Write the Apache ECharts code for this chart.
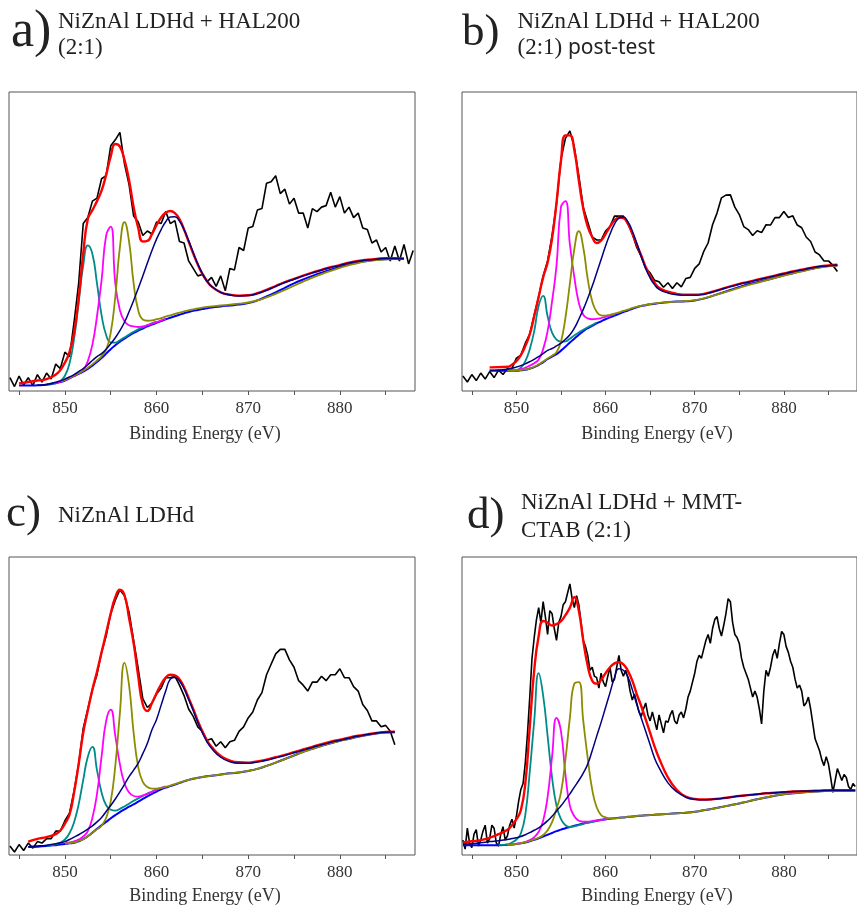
<!DOCTYPE html>
<html><head><meta charset="utf-8">
<script src="https://cdn.jsdelivr.net/npm/echarts@6/dist/echarts.min.js"></script>
<style>html,body{margin:0;padding:0;background:#fff}#c{width:857px;height:907px}</style>
</head><body><div id="c"></div>
<script>
const _ = null;
// energy grid of the fitted curves (eV)
const FX = [844,845,846,847,848,849,
 849.5,850,850.5,851,851.5,852,852.5,853,853.5,854,854.5,
 855,855.5,856,856.5,857,857.5,858,858.5,859,859.5,860,
 860.5,861,861.5,862,862.5,863,863.5,864,864.5,865,865.5,866,
 867,868,869,870,871,872,873,874,875,876,877,
 878,879,880,881,882,883,884,885,886,887,888];
// energy grid of the measured spectra a-c (eV)
const BX = [844,844.5,845,845.5,846,846.5,847,847.5,848,848.5,
 849,849.5,850,850.5,851,851.5,852,852.5,853,853.5,
 854,854.5,855,855.5,856,856.5,857,857.5,858,858.5,
 859,859.5,860,860.5,861,861.5,862,862.5,863,863.5,
 864,864.5,865,865.5,866,866.5,867,867.5,868,868.5,
 869,869.5,870,870.5,871,871.5,872,872.5,873,873.5,
 874,874.5,875,875.5,876,876.5,877,877.5,878,878.5,
 879,879.5,880,880.5,881,881.5,882,882.5,883,883.5,
 884,884.5,885,885.5,886,886.5,887,887.5,888];
// finer energy grid of the (noisier) measured spectrum d (eV)
const BXD = [844,844.25,844.5,844.75,845,845.25,845.5,845.75,846,846.25,846.5,846.75,847,847.25,847.5,847.75,848,848.25,848.5,848.75,
 849,849.25,849.5,849.75,850,850.25,850.5,850.75,851,851.25,851.5,851.75,852,852.25,852.5,852.75,853,853.25,853.5,853.75,
 854,854.25,854.5,854.75,855,855.25,855.5,855.75,856,856.25,856.5,856.75,857,857.25,857.5,857.75,858,858.25,858.5,858.75,
 859,859.25,859.5,859.75,860,860.25,860.5,860.75,861,861.25,861.5,861.75,862,862.25,862.5,862.75,863,863.25,863.5,863.75,
 864,864.25,864.5,864.75,865,865.25,865.5,865.75,866,866.25,866.5,866.75,867,867.25,867.5,867.75,868,868.25,868.5,868.75,
 869,869.25,869.5,869.75,870,870.25,870.5,870.75,871,871.25,871.5,871.75,872,872.25,872.5,872.75,873,873.25,873.5,873.75,
 874,874.25,874.5,874.75,875,875.25,875.5,875.75,876,876.25,876.5,876.75,877,877.25,877.5,877.75,878,878.25,878.5,878.75,
 879,879.25,879.5,879.75,880,880.25,880.5,880.75,881,881.25,881.5,881.75,882,882.25,882.5,882.75,883,883.25,883.5,883.75,
 884,884.25,884.5,884.75,885,885.25,885.5,885.75,886,886.25,886.5,886.75,887,887.25,887.5,887.75,888];
const TICK_LABELS = [850,860,870,880];
const TICKS = [845,850,855,860,865,870,875,880,885];

// ---------- a) NiZnAl LDHd + HAL200 (2:1)
const aBlack = [4.5,1.5,5,2,4.5,1.8,5.5,3,6,4,
 9,7.5,13,11.5,23,36,56,58,63.5,64.5,
 71,72,82,84,86.5,76,69,58.5,56.5,52,
 53.5,52.5,56.5,56,60,56,57,50,49.5,43.5,
 41,38.5,39,36.5,38,35,38.5,33.5,41,40.5,
 48,47,54.5,55,60.5,61,69.5,70,72,66,
 67.5,62.5,64.5,59.5,59.5,54.5,61,60,61.5,62,
 66.5,61.5,65,59.5,61.5,58,59.5,54.5,54,49.5,
 50.5,46.5,48,43.5,48.5,43.5,49,42.5,47];
const aRed = [_,2.5,3.0,3.5,4.0,5.5,
 7.0,9.5,13,19.5,31,46,57.5,60.5,63.5,67,72.3,
 78.5,82.6,81.7,77.3,70.5,61.5,54.5,50,50.2,52.5,55.5,
 58,59.6,60.2,59.5,57.5,54,50,46,42.3,39.2,36.8,35,
 33,32.2,31.9,32,32.7,33.8,35.1,36.4,37.5,38.6,39.6,
 40.5,41.4,42.1,42.9,43.5,43.9,44.2,44.4,44.4,44.3,_];
const aBg = [_,1.8,1.8,1.9,2.1,2.6,
 3.0,3.5,4.2,5.0,5.7,6.5,7.4,8.5,9.7,11.0,12.5,
 14.0,15.3,16.5,17.5,18.5,19.4,20.2,20.9,21.6,22.2,22.8,
 23.4,24.0,24.5,25.0,25.5,26.0,26.4,26.8,27.1,27.4,27.7,27.9,
 28.3,28.6,28.9,29.4,30.3,31.6,33.0,34.5,36.0,37.3,38.5,
 39.6,40.6,41.5,42.3,43.0,43.5,43.9,44.1,44.2,44.2,_];
const aCyan = [_,_,_,_,2.3,2.7,
 3.4,5.1,9.2,17.4,29.5,42,48.7,45.8,36,25.4,18.7,
 16.3,16.2,17,17.9,18.9,19.8,20.6,21.3,22,22.6,23.2,
 _,_,_,_,_,_,_,_,_,_,_,_,
 _,_,_,_,_,_,_,_,_,_,_,
 _,_,_,_,_,_,_,_,_,_,_];
const aMag = [_,_,_,_,_,2.7,
 3.1,3.6,4.3,5.1,5.9,7,10,15.5,25,37,52,
 55,36,27,23.3,22,21.6,21.4,21.6,22,22.5,23,
 23.6,24.1,_,_,_,_,_,_,_,_,_,_,
 _,_,_,_,_,_,_,_,_,_,_,
 _,_,_,_,_,_,_,_,_,_,_];
const aOlive = [_,_,_,_,_,_,
 3.2,3.7,4.4,5.2,6.0,6.8,7.8,8.9,10.2,11.6,13.8,
 19.5,31.6,48,56.5,50,36,27,23.9,23.5,23.6,24,
 24.4,24.9,25.3,25.8,26.2,26.6,27,27.3,27.6,27.9,28.1,28.3,
 28.6,28.9,29.2,29.6,30.3,31.3,32.5,33.8,35.2,36.6,37.9,
 39.1,40.2,41.2,42.1,42.8,43.4,43.8,44,44.1,44.1,_];
const aNavy = [_,_,_,1.9,2.2,2.9,
 3.4,4.0,4.7,5.5,6.5,7.5,8.8,10.2,11.5,12.5,14,
 15.8,17.8,20.2,23,26.5,30.3,34.3,38.5,42.8,47,50.8,
 54,56.6,58.2,58.3,56.8,54,50.3,46.3,42.5,39.3,36.8,35,
 33,32.1,31.8,31.9,32.6,33.7,35,36.3,37.4,38.5,39.5,
 40.4,41.3,42,42.8,43.4,43.8,44.1,44.3,44.3,44.2,_];

// ---------- b) NiZnAl LDHd + HAL200 (2:1) post-test
const bBlack = [5,3,5.5,3.5,6,4,6.5,4.5,7,5.5,
 7.5,7.5,11,12,16,19,25.5,31.5,38.5,43.5,
 52,62.5,77.5,84.5,87,81.5,72,61.5,56.5,51.5,
 50.5,50.5,53.5,55,58.5,58.5,58.5,56,52.5,48,
 45,41,39.5,37,36.5,34.7,36.2,34.3,36.2,34.8,
 37.6,38,41,42.5,46.6,49.5,55.6,59.5,64.6,65.5,
 65.6,61.5,59,55,54,52,53.6,53,55.6,55.5,
 58,58,60,58,58.6,55.5,54.6,51.5,50,46.5,
 45.5,43.5,43.5,42,40,_,_,_,_];
const bRed = [_,_,_,7.9,8.0,8.1,
 8.8,10,12,15,19,25,31.5,38,43,51,63,
 77,85.5,85.5,80.5,70.5,61,55,51.5,49.5,50.3,52.5,
 55,57,58,57.8,56,52.7,49,45.3,41.5,38.5,36.2,34.5,
 33.2,32.5,32.2,32.2,32.5,33.2,34.1,35,35.8,36.5,37.2,
 37.9,38.6,39.3,40,40.6,41.2,41.7,42,42.2,_,_];
const bBg = [_,_,_,6.8,6.8,6.8,
 6.8,6.8,6.9,7.1,7.5,8.0,8.7,9.6,10.7,11.5,12.3,
 13.5,14.8,16.2,17.5,18.8,20,21,21.8,22.6,23.3,24,
 24.6,25.2,25.8,26.4,26.9,27.5,28,28.4,28.7,29,29.2,29.4,
 29.7,29.9,30,30.3,30.9,31.8,32.8,33.8,34.8,35.7,36.4,
 37.1,37.9,38.7,39.4,40.1,40.8,41.4,41.8,42,_,_];
const bCyan = [_,_,_,_,_,6.8,
 6.9,7.0,7.8,10,14,20,28.5,31.8,25,19.5,17.2,
 16.5,16.6,17.5,18.6,19.6,20.5,21.3,22.1,22.9,_,_,
 _,_,_,_,_,_,_,_,_,_,_,_,
 _,_,_,_,_,_,_,_,_,_,_,
 _,_,_,_,_,_,_,_,_,_,_];
const bMag = [_,_,_,_,_,_,
 6.9,7.0,7.3,7.8,8.5,9.3,10.5,14,20,30,42,
 61.5,63.5,49,38,29.5,25.5,24.3,24,24.1,24.4,24.8,
 25.2,25.6,_,_,_,_,_,_,_,_,_,_,
 _,_,_,_,_,_,_,_,_,_,_,
 _,_,_,_,_,_,_,_,_,_,_];
const bOlive = [_,_,_,_,_,6.8,
 6.8,6.9,7.0,7.2,7.5,8.1,8.9,9.9,10.9,11.8,13.0,
 16.5,24.5,36,47.5,53.5,48,37.5,30,26.5,25.3,25.2,
 25.5,25.9,26.3,26.8,27.2,27.7,28.1,28.5,28.8,29.1,29.3,29.5,
 29.7,29.9,30.1,30.4,31,31.8,32.7,33.6,34.5,35.4,36.2,
 37,37.8,38.6,39.3,40,40.7,41.3,41.7,41.9,_,_];
const bNavy = [_,_,_,6.9,7.0,7.3,
 7.6,8.0,8.5,9.1,9.8,10.6,11.5,12.5,13.6,14.2,15.1,
 16.0,17.3,18.8,21,24,27.3,31,35,39.5,44,48.5,
 52.5,55.8,57.8,58.2,56.6,53.5,49.4,45,41,37.8,35.5,34,
 32.8,32.2,32,32,32.3,33.1,34,34.9,35.7,36.4,37.1,
 37.8,38.5,39.2,39.9,40.5,41.1,41.6,41.9,42.1,_,_];

// ---------- c) NiZnAl LDHd
const cBlack = [3,1,3.5,1.5,4,2.3,4.5,4,5.5,5.5,
 8,8,11.5,14,21.5,30.5,42.5,49,55.5,60.5,
 68,73.5,81,85.5,89,87,81.5,72,62.5,52.5,
 49.5,51,54,56,59.5,59.5,60,57,53.5,49,
 46.5,43,41.5,38.5,39,36.5,38,36,38,38.5,
 41.5,43,46,48,52,54.5,60.5,64,67.5,69,
 69,65.5,63,58.5,57,55,58,58,60,58.5,
 60.5,60.5,62.5,59.5,59.5,56.5,55,50.5,48.5,45,
 45,43,43.5,41.5,37,_,_,_,_];
const cRed = [_,_,4.5,5.4,6.0,7.0,
 8.2,10.5,13.5,21,30.5,41,48.5,55.5,61.5,68,74.5,
 81,86.5,89,87.2,79.5,71,60,50.5,48.3,51,54.3,
 57.3,59.5,60.5,60.3,59,56.3,52.7,49,45,41.5,38.5,36.3,
 33.2,31.7,31.1,31,31.4,32,32.8,33.6,34.5,35.4,36.3,
 37.2,38,38.7,39.4,40,40.5,41,41.3,41.4,_,_];
const cBg = [_,_,2.7,2.8,3.0,3.3,
 3.5,3.7,3.9,4.1,4.6,5.3,6.3,7.5,8.8,10,11.1,
 12.3,13.4,14.4,15.3,16.2,17,17.9,18.8,19.7,20.5,21.3,
 22,22.6,23.1,23.6,24.2,24.7,25.2,25.6,25.9,26.2,26.4,26.6,
 27,27.4,27.7,28.2,28.9,29.9,31,32.2,33.4,34.6,35.6,
 36.6,37.5,38.3,39,39.7,40.3,40.8,41.1,41.2,_,_];
const cCyan = [_,_,_,_,3.1,3.6,
 4.2,5.2,7.3,11,17,25.2,33,36.3,28.5,21,16.7,
 15.2,14.9,15.5,16.3,17.2,18.2,19,19.8,20.6,21.3,22,
 _,_,_,_,_,_,_,_,_,_,_,_,
 _,_,_,_,_,_,_,_,_,_,_,
 _,_,_,_,_,_,_,_,_,_,_];
const cMag = [_,_,_,_,_,_,
 _,3.9,4.2,4.6,5.2,6.2,8,12.5,20.5,33,45,
 48.8,40,30.5,24,21,19.8,19.6,20,20.5,21.2,21.9,
 22.5,23,_,_,_,_,_,_,_,_,_,_,
 _,_,_,_,_,_,_,_,_,_,_,
 _,_,_,_,_,_,_,_,_,_,_];
const cOlive = [_,_,_,_,_,_,
 _,3.8,4.0,4.2,4.7,5.3,6.3,7.5,8.6,9.8,12.5,
 18,30,47.6,64.5,57,41,29.5,24.5,22.8,22.3,22.3,
 22.5,22.9,23.3,23.8,24.3,24.8,25.2,25.6,25.9,26.2,26.4,26.6,
 27,27.4,27.7,28.2,28.9,29.9,31,32.2,33.4,34.6,35.6,
 36.6,37.5,38.3,39,39.7,40.3,40.8,41.1,41.2,_,_];
const cNavy = [_,_,2.8,3.0,3.3,3.8,
 4.1,4.5,5.2,6.0,6.8,7.7,8.7,9.8,11.1,12.6,14.6,
 16.6,18.8,21.2,23.7,26.3,28.5,30.8,34,37.5,42,45.5,
 50.3,55,59,59.6,58.4,55.8,52.2,48.5,44.5,41,38,35.8,
 32.8,31.3,30.8,30.8,31.2,31.8,32.6,33.4,34.3,35.2,36.1,
 37,37.8,38.5,39.2,39.9,40.4,40.9,41.2,41.3,_,_];

// ---------- d) NiZnAl LDHd + MMT-CTAB (2:1)
const dBlack = [5,2,9,4,2.5,7,8.5,3,5,8,10,4,5.5,10,9,4,3,7,9.5,5,
 6.5,10,12,9,13,18,22,24,31,41,53,66,73,79,83,78,85,80,74,82,
 81,76,72,78,80,84,85,88,91,86,83,87,84,78,72,70,67,62,63,60,
 59.5,56,61,58,56.5,60,63,58,59,63,67,62,60,62,59.5,55,52,54,51,48,
 46.5,49,51,47,45,48,45,42,47,44,41,45,44.5,47,48.5,45,44,47,48,46,
 49,53,55,58,61,65,67,66,69,72,74,71,76,79,80,76,73.5,77,81,86,
 85,78,74,73,71,66,63,61,59,56,53,55,53,49,44,55,62,60,63,67,
 69,66,71,75,74,70,68,65,63,59,56,57,55,50,51,53,49,44,39,37,
 35,32,30,33,30.5,26,21,25,29,27,25,27,26,23,22,24,23];
const dRed = [4.2,4.6,5.0,5.8,7.0,8.5,
 10,12,15,24,43,62,73.5,78.5,78,77,77.5,
 78.5,80.5,83,86.5,82,72,63.5,58.5,57.5,58.8,61,
 63,64.3,64.7,64,61.8,58.5,54,50,45.5,41,36.4,32.5,
 26,21.8,19.6,18.8,18.6,18.7,19,19.4,19.8,20.1,20.4,
 20.7,20.9,21.1,21.3,21.4,21.5,21.6,21.7,21.7,21.7,21.7];
const dBg = [3.3,3.3,3.3,3.3,3.3,3.4,
 3.5,3.7,3.9,4.2,4.6,5.1,5.6,6.2,6.8,7.4,8,
 8.5,9,9.4,9.8,10.2,10.6,10.9,11.2,11.5,11.8,12,
 12.2,12.3,12.5,12.6,12.8,12.9,13.1,13.2,13.3,13.4,13.5,13.6,
 13.8,14,14.2,14.5,15,15.5,16.1,16.7,17.3,18,18.7,
 19.3,19.9,20.4,20.7,21,21.2,21.4,21.5,21.6,21.6,21.6];
const dCyan = [_,_,_,_,3.4,3.6,
 4.2,5.2,7.2,13.5,28,45,61,53.5,40,26,16.5,
 12,10,9.4,9.6,10,10.4,10.8,11.1,11.4,11.7,12,
 _,_,_,_,_,_,_,_,_,_,_,_,
 _,_,_,_,_,_,_,_,_,_,_,
 _,_,_,_,_,_,_,_,_,_,_];
const dMag = [_,_,_,_,_,_,
 _,3.8,4.0,4.4,5.0,6.0,7.8,11.5,19.5,33,46,
 41.5,27,16.5,13,11.5,11.2,11.2,11.4,11.6,11.8,12,
 12.3,_,_,_,_,_,_,_,_,_,_,_,
 _,_,_,_,_,_,_,_,_,_,_,
 _,_,_,_,_,_,_,_,_,_,_];
const dOlive = [_,_,_,_,_,3.4,
 3.5,3.7,3.9,4.3,4.7,5.2,5.8,6.7,8.3,11,15.5,
 21,32,46,57.5,58,45,32.5,22,16,13.4,12.6,
 12.3,12.3,12.4,12.6,12.8,12.9,13.1,13.2,13.3,13.4,13.5,13.6,
 13.8,14,14.2,14.5,15,15.5,16.1,16.7,17.3,18,18.7,
 19.3,19.9,20.4,20.7,21,21.2,21.4,21.5,21.6,21.6,21.6];
const dNavy = [3.6,3.8,4.1,4.5,4.8,5.2,
 5.5,5.8,6.2,6.8,7.5,8.3,9.1,10.2,11.5,13,14.8,
 16.5,18.5,20.5,22.8,25,27.5,30.5,35,39.8,44.5,49.5,
 54.5,59.5,62.5,62,59.8,55.5,50.5,46,41.5,37,32.5,29.3,
 24.2,21.2,19.4,18.7,18.5,18.7,19,19.4,19.8,20.1,20.4,
 20.7,20.9,21.1,21.3,21.4,21.5,21.6,21.7,21.7,21.7,21.7];

const panels = [
 {grid:{left:9,top:92,width:406,height:299}, bx:BX, black:aBlack, red:aRed, bg:aBg, cyan:aCyan, mag:aMag, olive:aOlive, navy:aNavy},
 {grid:{left:462,top:92,width:406,height:299}, bx:BX, black:bBlack, red:bRed, bg:bBg, cyan:bCyan, mag:bMag, olive:bOlive, navy:bNavy},
 {grid:{left:9,top:557,width:406,height:298}, bx:BX, black:cBlack, red:cRed, bg:cBg, cyan:cCyan, mag:cMag, olive:cOlive, navy:cNavy},
 {grid:{left:462,top:557,width:406,height:298}, bx:BXD, black:dBlack, red:dRed, bg:dBg, cyan:dCyan, mag:dMag, olive:dOlive, navy:dNavy}
];

function pts(xs, ys, name){
  if (xs.length !== ys.length) throw new Error('length mismatch ' + name + ' ' + ys.length + ' vs ' + xs.length);
  const out = [];
  for (let i = 0; i < xs.length; i++) if (ys[i] !== null) out.push([xs[i], ys[i]]);
  return out;
}

const SERIF = 'Liberation Serif';
const grids = [], xAxes = [], yAxes = [], series = [];
panels.forEach((p, i) => {
  grids.push(Object.assign({show:true, borderColor:'#555', borderWidth:1, backgroundColor:'transparent', containLabel:false}, p.grid));
  xAxes.push({gridIndex:i, type:'value', min:843.9, max:888.2,
    axisLine:{show:false}, splitLine:{show:false},
    axisTick:{show:true, inside:false, length:4, lineStyle:{color:'#555'}, customValues:TICKS},
    axisLabel:{customValues:TICK_LABELS, margin:9, fontFamily:SERIF, fontSize:17, color:'#333'}});
  yAxes.push({gridIndex:i, type:'value', min:0, max:100, show:false});
  const line = (data, color, width, smooth, z) => ({type:'line', xAxisIndex:i, yAxisIndex:i, data, symbol:'none',
    smooth, lineStyle:{color, width}, z, silent:true, clip:true});
  series.push(line(pts(p.bx, p.black, 'black'+i), '#000000', 1.6, false, 2));
  series.push(line(pts(FX, p.bg, 'bg'+i), '#0000ff', 2, 0.5, 3));
  series.push(line(pts(FX, p.cyan, 'cyan'+i), '#008b8b', 1.8, 0.5, 4));
  series.push(line(pts(FX, p.mag, 'mag'+i), '#ff00ff', 1.8, 0.5, 5));
  series.push(line(pts(FX, p.olive, 'olive'+i), '#8c8c00', 1.8, 0.5, 6));
  series.push(line(pts(FX, p.red, 'red'+i), '#ff0000', 2.4, 0.5, 7));
  series.push(line(pts(FX, p.navy, 'navy'+i), '#000080', 1.5, 0.5, 8));
});

function txt(x, y, text, size, opts) {
  return Object.assign({type:'text', x, y, silent:true, style:Object.assign({text, font: size + 'px "' + SERIF + '"', fill:'#222',
    textAlign:'left', textVerticalAlign:'middle', verticalAlign:'middle'}, opts || {})});
}
const graphic = [
  txt(11, 32.5, 'a)', 52),
  txt(58, 22, 'NiZnAl LDHd + HAL200', 23),
  txt(58, 48, '(2:1)', 23),
  txt(462, 33, 'b)', 45),
  txt(517.5, 22.4, 'NiZnAl LDHd + HAL200', 23),
  {type:'text', x:517.5, y:48, silent:true, style:{text:'{s|(2:1)} {p|post-test}', textVerticalAlign:'middle', verticalAlign:'middle',
     rich:{s:{fontFamily:SERIF, fontSize:23, fill:'#222', color:'#222'}, p:{fontFamily:'Noto Sans', fontSize:21, fill:'#222', color:'#222'}}, font:'23px "'+SERIF+'"', fill:'#222'}},
  txt(6, 514.5, 'c)', 45),
  txt(58, 516.4, 'NiZnAl LDHd', 23),
  txt(467, 516.5, 'd)', 45),
  txt(521, 503, 'NiZnAl LDHd + MMT-', 23),
  txt(521, 531.4, 'CTAB (2:1)', 23),
  txt(205, 434.5, 'Binding Energy (eV)', 18, {textAlign:'center', fill:'#333'}),
  txt(657, 434.5, 'Binding Energy (eV)', 18, {textAlign:'center', fill:'#333'}),
  txt(205, 896, 'Binding Energy (eV)', 18, {textAlign:'center', fill:'#333'}),
  txt(657, 896, 'Binding Energy (eV)', 18, {textAlign:'center', fill:'#333'})
];

const chart = echarts.init(document.getElementById('c'), null, {renderer:'canvas'});
chart.setOption({animation:false, backgroundColor:'#ffffff', grid:grids, xAxis:xAxes, yAxis:yAxes, series, graphic});
</script>
</body></html>
